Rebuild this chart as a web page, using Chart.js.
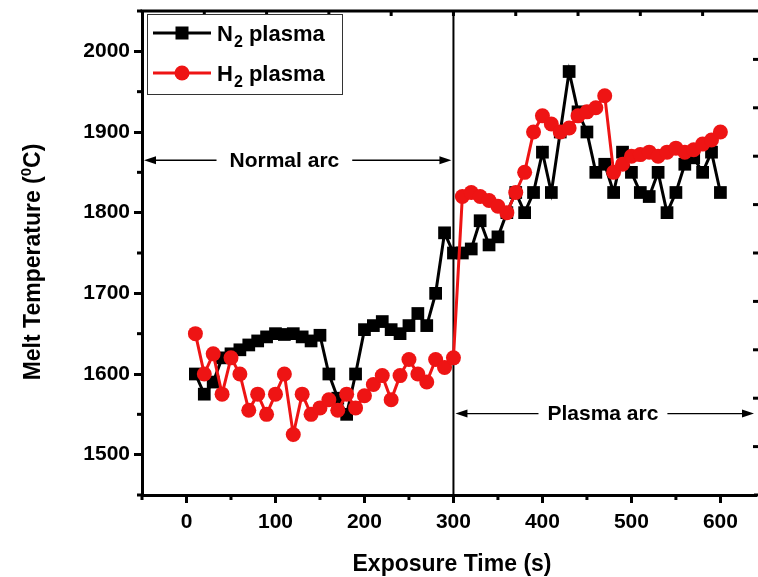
<!DOCTYPE html>
<html lang="en">
<head>
  <meta charset="UTF-8" />
  <title>Melt temperature vs exposure time</title>
  <style>
    html, body { margin: 0; padding: 0; background: #fff; overflow: hidden; }
    #wrap { position: relative; width: 758px; height: 577px; }
  </style>
</head>
<body>
  <div id="wrap"><canvas id="meltChart" width="758" height="577"></canvas></div>

  <script src="https://cdn.jsdelivr.net/npm/chart.js"></script>
  <script>
    // Exposure time (s) of each reading
    const times = [10, 20, 30, 40, 50, 60, 70, 80, 90, 100,
                   110, 120, 130, 140, 150, 160, 170, 180, 190, 200,
                   210, 220, 230, 240, 250, 260, 270, 280, 290, 300,
                   310, 320, 330, 340, 350, 360, 370, 380, 390, 400,
                   410, 420, 430, 440, 450, 460, 470, 480, 490, 500,
                   510, 520, 530, 540, 550, 560, 570, 580, 590, 600];

    // Melt temperature (°C), N2 plasma
    const n2Temp = [1600, 1575, 1590, 1620, 1625, 1630, 1636, 1641, 1646, 1650,
                    1649, 1650, 1646, 1641, 1648, 1600, 1570, 1550, 1600, 1655,
                    1660, 1665, 1655, 1650, 1660, 1675, 1660, 1700, 1775, 1750,
                    1750, 1755, 1790, 1760, 1770, 1800, 1825, 1800, 1825, 1875,
                    1825, 1900, 1975, 1925, 1900, 1850, 1860, 1825, 1875, 1850,
                    1825, 1820, 1850, 1800, 1825, 1860, 1868, 1850, 1875, 1825];

    // Melt temperature (°C), H2 plasma
    const h2Temp = [1650, 1600, 1625, 1575, 1620, 1600, 1555, 1575, 1550, 1575,
                    1600, 1525, 1575, 1550, 1558, 1568, 1555, 1575, 1558, 1573,
                    1587, 1598, 1568, 1598, 1618, 1600, 1590, 1618, 1608, 1620,
                    1820, 1825, 1820, 1815, 1808, 1800, 1825, 1850, 1900, 1920,
                    1910, 1900, 1905, 1920, 1925, 1930, 1945, 1850, 1860, 1870,
                    1872, 1875, 1870, 1875, 1880, 1875, 1878, 1885, 1890, 1900];

    const xTicks = [0, 100, 200, 300, 400, 500, 600];
    const yTicks = [1500, 1600, 1700, 1800, 1900, 2000];
    // the figure is cropped on the right: visible x axis stops near 640 s
    const xRange = [-50, 640];
    const yRange = [1450, 2050];
    const arcSplit = 300;   // switch from normal arc to plasma arc

    const FONT = "'Liberation Sans', Arial, sans-serif";
    const RED = '#ee1414';

    // frame, minor ticks, arrows, legend and axis titles
    const decor = {
      id: 'decor',
      beforeDatasetsDraw(chart) {
        const { ctx, chartArea: a, scales: { x } } = chart;
        const px = x.getPixelForValue(arcSplit);
        ctx.save();
        ctx.strokeStyle = '#000';
        ctx.lineWidth = 2;
        ctx.beginPath();
        ctx.moveTo(px, a.top);
        ctx.lineTo(px, a.bottom);
        ctx.stroke();
        ctx.restore();
      },
      afterDraw(chart) {
        const { ctx, chartArea: a, scales: { x, y } } = chart;
        const W = chart.width;
        ctx.save();

        // top frame and bottom axis run to the cropped edge
        ctx.strokeStyle = '#000';
        ctx.lineWidth = 3;
        ctx.beginPath();
        ctx.moveTo(a.left - 1.5, a.top);
        ctx.lineTo(W, a.top);
        ctx.moveTo(a.right - 2, a.bottom);
        ctx.lineTo(W, a.bottom);
        ctx.stroke();

        // minor ticks (outside, bottom + left)
        for (let v = -50; v <= 650; v += 100) {
          const px = x.getPixelForValue(v);
          if (px > W) continue;
          ctx.beginPath(); ctx.moveTo(px, a.bottom); ctx.lineTo(px, a.bottom + 5); ctx.stroke();
        }
        for (let v = yRange[0]; v <= yRange[1]; v += 100) {
          const py = y.getPixelForValue(v);
          ctx.beginPath(); ctx.moveTo(a.left, py); ctx.lineTo(a.left - 5, py); ctx.stroke();
        }
        // top / right axes carry their own tick spacing (inside)
        for (let v = 20; v < xRange[1]; v += 70) {
          const px = x.getPixelForValue(v);
          ctx.beginPath(); ctx.moveTo(px, a.top); ctx.lineTo(px, a.top + 5); ctx.stroke();
        }
        for (let v = 1510; v < yRange[1]; v += 60) {
          const py = y.getPixelForValue(v);
          ctx.beginPath(); ctx.moveTo(W, py); ctx.lineTo(W - 5, py); ctx.stroke();
        }

        // double arrows with labels
        function arc(label, x1, x2, cx, yv, gap) {
          const l = x.getPixelForValue(x1) + 2;
          const r = x.getPixelForValue(x2) - 2;
          const c = x.getPixelForValue(cx);
          const py = y.getPixelForValue(yv);
          ctx.font = 'bold 21px ' + FONT;
          const w = ctx.measureText(label).width;
          ctx.fillStyle = '#000';
          ctx.textAlign = 'center';
          ctx.textBaseline = 'middle';
          ctx.fillText(label, c, py + 1);
          ctx.lineWidth = 1.3;
          ctx.beginPath();
          ctx.moveTo(l + 8, py); ctx.lineTo(c - w / 2 - gap, py);
          ctx.moveTo(c + w / 2 + gap, py); ctx.lineTo(r - 8, py);
          ctx.stroke();
          ctx.beginPath();
          ctx.moveTo(l, py); ctx.lineTo(l + 12, py - 4); ctx.lineTo(l + 12, py + 4); ctx.closePath();
          ctx.moveTo(r, py); ctx.lineTo(r - 12, py - 4); ctx.lineTo(r - 12, py + 4); ctx.closePath();
          ctx.fill();
        }
        arc('Normal arc', xRange[0], arcSplit, 110, 1865, 13);
        arc('Plasma arc', arcSplit, 640, 468, 1551, 9);

        // legend
        const lx = a.left + 5, ly = a.top + 3, lw = 195, lh = 80;
        ctx.fillStyle = '#fff';
        ctx.fillRect(lx, ly, lw, lh);
        ctx.strokeStyle = '#333';
        ctx.lineWidth = 1;
        ctx.strokeRect(lx + 0.5, ly + 0.5, lw, lh);
        const rows = [
          { sym: 'N', color: '#000', shape: 'rect', cy: ly + 19 },
          { sym: 'H', color: RED, shape: 'circle', cy: ly + 59 }
        ];
        rows.forEach(rw => {
          ctx.strokeStyle = rw.color;
          ctx.fillStyle = rw.color;
          ctx.lineWidth = 3;
          ctx.beginPath();
          ctx.moveTo(lx + 6, rw.cy); ctx.lineTo(lx + 64, rw.cy);
          ctx.stroke();
          const mx = lx + 35;
          if (rw.shape === 'rect') {
            ctx.fillRect(mx - 6.5, rw.cy - 6.5, 13, 13);
          } else {
            ctx.beginPath(); ctx.arc(mx, rw.cy, 7.5, 0, Math.PI * 2); ctx.fill();
          }
          ctx.fillStyle = '#000';
          ctx.textAlign = 'left';
          ctx.textBaseline = 'alphabetic';
          let tx = lx + 70;
          const base = rw.cy + 8;
          ctx.font = 'bold 22px ' + FONT;
          ctx.fillText(rw.sym, tx, base);
          tx += ctx.measureText(rw.sym).width + 1;
          ctx.font = 'bold 16px ' + FONT;
          ctx.fillText('2', tx, base + 6);
          tx += ctx.measureText('2').width;
          ctx.font = 'bold 22px ' + FONT;
          ctx.fillText(' plasma', tx, base);
        });

        // x axis title
        ctx.fillStyle = '#000';
        ctx.font = 'bold 23px ' + FONT;
        ctx.textAlign = 'center';
        ctx.textBaseline = 'alphabetic';
        ctx.fillText('Exposure Time (s)', 452, 571);

        // y axis title with superscript
        ctx.translate(40, 262);
        ctx.rotate(-Math.PI / 2);
        ctx.textAlign = 'left';
        const p1 = 'Melt Temperature (', p2 = '0', p3 = 'C)';
        ctx.font = 'bold 23px ' + FONT;
        const w1 = ctx.measureText(p1).width, w3 = ctx.measureText(p3).width;
        ctx.font = 'bold 15px ' + FONT;
        const w2 = ctx.measureText(p2).width;
        let tx = -(w1 + w2 + w3) / 2;
        ctx.font = 'bold 23px ' + FONT;
        ctx.fillText(p1, tx, 0);
        tx += w1;
        ctx.font = 'bold 15px ' + FONT;
        ctx.fillText(p2, tx, -9);
        tx += w2;
        ctx.font = 'bold 23px ' + FONT;
        ctx.fillText(p3, tx, 0);

        ctx.restore();
      }
    };

    const ctx = document.getElementById('meltChart').getContext('2d');
    new Chart(ctx, {
      type: 'line',
      data: {
        datasets: [
          {
            label: 'H2 plasma',
            data: times.map((t, i) => ({ x: t, y: h2Temp[i] })),
            borderColor: RED,
            backgroundColor: RED,
            borderWidth: 3,
            pointStyle: 'circle',
            pointRadius: 7.5,
            pointBorderWidth: 0,
            tension: 0,
            order: 0
          },
          {
            label: 'N2 plasma',
            data: times.map((t, i) => ({ x: t, y: n2Temp[i] })),
            borderColor: '#000',
            backgroundColor: '#000',
            borderWidth: 3,
            pointStyle: 'rect',
            pointRadius: 9,
            pointBorderWidth: 0,
            tension: 0,
            order: 1
          }
        ]
      },
      options: {
        responsive: false,
        devicePixelRatio: 1,
        animation: false,
        layout: { autoPadding: false, padding: { left: 0, right: 2, top: 11, bottom: 0 } },
        plugins: {
          legend: { display: false },
          tooltip: { enabled: false }
        },
        scales: {
          x: {
            type: 'linear',
            min: xRange[0],
            max: xRange[1],
            afterBuildTicks: s => { s.ticks = xTicks.map(v => ({ value: v })); },
            afterFit: s => { s.height = 82; s.paddingLeft = 0; s.paddingRight = 0; },
            border: { display: true, color: '#000', width: 3 },
            grid: { display: true, drawOnChartArea: false, drawTicks: true, tickLength: 8, tickWidth: 3, tickColor: '#000' },
            ticks: {
              color: '#000',
              padding: 7,
              maxRotation: 0,
              font: { family: FONT, size: 21, weight: 'bold' },
              callback: v => String(v)
            }
          },
          y: {
            type: 'linear',
            min: yRange[0],
            max: yRange[1],
            afterBuildTicks: s => { s.ticks = yTicks.map(v => ({ value: v })); },
            afterFit: s => { s.width = 142; s.paddingTop = 0; s.paddingBottom = 0; },
            border: { display: true, color: '#000', width: 3 },
            grid: { display: true, drawOnChartArea: false, drawTicks: true, tickLength: 8, tickWidth: 3, tickColor: '#000' },
            ticks: {
              color: '#000',
              padding: 4,
              font: { family: FONT, size: 21, weight: 'bold' },
              callback: v => String(v)
            }
          }
        }
      },
      plugins: [decor]
    });
  </script>
</body>
</html>
